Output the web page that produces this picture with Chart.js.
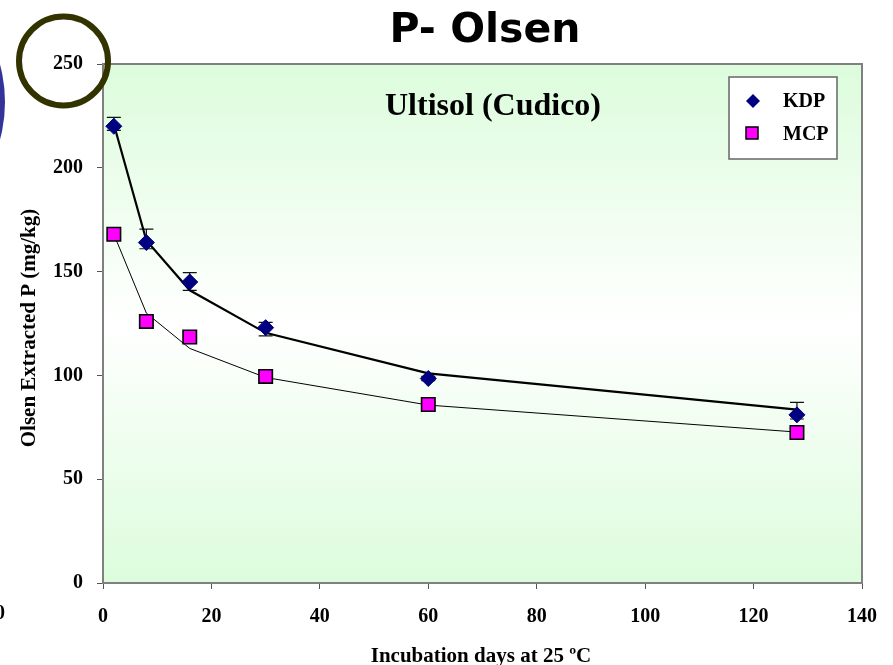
<!DOCTYPE html>
<html>
<head>
<meta charset="utf-8">
<script src="https://cdn.jsdelivr.net/npm/chart.js@4"></script>
<style>
html,body{margin:0;padding:0;background:#fff;}
#wrap{width:893px;height:665px;}
</style>
</head>
<body>
<div id="wrap"><canvas id="c" width="893" height="665"></canvas></div>
<script>
// ---- data ----
const days = [2, 8, 16, 30, 60, 128];
const kdp = [220, 164, 145, 123, 98.5, 81];
const mcp = [168, 126, 118.5, 99.5, 86, 72.5];
const kdpFit = [221, 165, 141, 120.5, 101, 83.5];
const mcpFit = [168, 130, 113, 99, 85.7, 72.7];
const kdpErrUp = [4.3, 6.5, 4.5, 2.5, 1, 6];
const kdpErrDown = [2, 3, 4, 4, 1, 2];
const xTicks = [0, 20, 40, 60, 80, 100, 120, 140];
const yTicks = [0, 50, 100, 150, 200, 250];
const seriesNames = ['KDP', 'MCP'];
const chartTitle = 'P- Olsen';
const innerTitle = 'Ultisol (Cudico)';
const xTitle = 'Incubation days at 25 ºC';
const yTitle = 'Olsen Extracted P (mg/kg)';

const pts = (xs, ys) => xs.map((x, i) => ({x: x, y: ys[i]}));
const SERIF = 'Liberation Serif, Times New Roman, serif';

const bgPlugin = {
  id: 'bg',
  beforeDraw(chart) {
    const {ctx, chartArea: a} = chart;
    ctx.save();
    ctx.fillStyle = '#ffffff';
    ctx.fillRect(0, 0, chart.width, chart.height);
    const g = ctx.createLinearGradient(0, a.top, 0, a.bottom);
    g.addColorStop(0, '#dcfcdc');
    g.addColorStop(0.5, '#ffffff');
    g.addColorStop(1, '#dcfcdc');
    ctx.fillStyle = g;
    ctx.fillRect(a.left, a.top, a.right - a.left, a.bottom - a.top);
    ctx.restore();
  },
  beforeDatasetsDraw(chart) {
    const {ctx} = chart;
    const xs = chart.scales.x, ys = chart.scales.y;
    ctx.save();
    ctx.strokeStyle = '#111111';
    ctx.lineWidth = 1.2;
    days.forEach((d, i) => {
      const px = xs.getPixelForValue(d);
      const top = ys.getPixelForValue(kdp[i] + kdpErrUp[i]);
      const bot = ys.getPixelForValue(kdp[i] - kdpErrDown[i]);
      ctx.beginPath();
      ctx.moveTo(px, top); ctx.lineTo(px, bot);
      ctx.moveTo(px - 7, top); ctx.lineTo(px + 7, top);
      ctx.moveTo(px - 7, bot); ctx.lineTo(px + 7, bot);
      ctx.stroke();
    });
    ctx.restore();
  },
  afterDraw(chart) {
    const {ctx, chartArea: a} = chart;
    ctx.save();
    // frame
    ctx.strokeStyle = '#808080';
    ctx.lineWidth = 2;
    ctx.strokeRect(a.left, a.top, a.right - a.left, a.bottom - a.top);
    // main title
    ctx.fillStyle = '#000';
    ctx.textAlign = 'center';
    ctx.textBaseline = 'alphabetic';
    ctx.font = 'bold 41px "DejaVu Sans", Verdana, sans-serif';
    ctx.fillText(chartTitle, 485, 42);
    // inner title
    ctx.font = 'bold 32px ' + SERIF;
    ctx.fillText(innerTitle, 493, 115);
    // axis titles
    ctx.font = 'bold 21px ' + SERIF;
    ctx.fillText(xTitle, 481, 662);
    ctx.save();
    ctx.translate(35, 328);
    ctx.rotate(-Math.PI / 2);
    ctx.fillText(yTitle, 0, 0);
    ctx.restore();
    // legend
    ctx.fillStyle = '#ffffff';
    ctx.fillRect(729, 77, 108, 82);
    ctx.strokeStyle = '#666666';
    ctx.lineWidth = 1.5;
    ctx.strokeRect(729, 77, 108, 82);
    ctx.fillStyle = '#000080';
    ctx.beginPath();
    ctx.moveTo(753, 94); ctx.lineTo(760, 101); ctx.lineTo(753, 108); ctx.lineTo(746, 101);
    ctx.closePath(); ctx.fill();
    ctx.fillStyle = '#ff00ff';
    ctx.fillRect(746, 127, 12, 12);
    ctx.strokeStyle = '#000';
    ctx.lineWidth = 1.5;
    ctx.strokeRect(746, 127, 12, 12);
    ctx.fillStyle = '#000';
    ctx.textAlign = 'left';
    ctx.font = 'bold 20px ' + SERIF;
    ctx.fillText(seriesNames[0], 783, 107);
    ctx.fillText(seriesNames[1], 783, 140);
    // decorations
    ctx.strokeStyle = '#333300';
    ctx.lineWidth = 6;
    ctx.beginPath();
    ctx.arc(63.5, 61, 44.5, 0, Math.PI * 2);
    ctx.stroke();
    ctx.fillStyle = '#333399';
    ctx.beginPath();
    ctx.arc(-138, 102, 143, 0, Math.PI * 2);
    ctx.fill();
    ctx.fillStyle = '#000';
    ctx.textAlign = 'center';
    ctx.font = 'bold 20px ' + SERIF;
    ctx.fillText('0', 0, 619);
    ctx.restore();
  }
};

new Chart(document.getElementById('c'), {
  type: 'scatter',
  data: {
    datasets: [
      {label: seriesNames[0], data: pts(days, kdp), pointStyle: 'rectRot', pointRadius: 8, pointHoverRadius: 8,
       backgroundColor: '#000080', borderColor: '#000080', borderWidth: 1, showLine: false, order: 0},
      {label: seriesNames[1], data: pts(days, mcp), pointStyle: 'rect', pointRadius: 9.5, pointHoverRadius: 9.5,
       backgroundColor: '#ff00ff', borderColor: '#000000', borderWidth: 1.6, showLine: false, order: 0},
      {label: 'KDP fit', data: pts(days, kdpFit), showLine: true, pointRadius: 0, borderColor: '#000000',
       borderWidth: 2.2, fill: false, tension: 0, order: 2},
      {label: 'MCP fit', data: pts(days, mcpFit), showLine: true, pointRadius: 0, borderColor: '#000000',
       borderWidth: 1, fill: false, tension: 0, order: 2}
    ]
  },
  options: {
    responsive: false,
    animation: false,
    devicePixelRatio: 1,
    layout: {padding: {top: 64, right: 31, left: 0, bottom: 0}},
    plugins: {legend: {display: false}, title: {display: false}, tooltip: {enabled: false}},
    scales: {
      x: {
        type: 'linear', min: 0, max: 140,
        afterBuildTicks: s => { s.ticks = xTicks.map(v => ({value: v})); },
        afterFit: s => { s.height = 82; },
        grid: {drawOnChartArea: false, drawTicks: true, tickLength: 6, color: '#555555', lineWidth: 1},
        border: {display: true, color: '#808080', width: 2},
        ticks: {padding: 16, color: '#000', maxRotation: 0, font: {family: SERIF, weight: 'bold', size: 20}}
      },
      y: {
        type: 'linear', min: 0, max: 250,
        afterBuildTicks: s => { s.ticks = yTicks.map(v => ({value: v})); },
        afterFit: s => { s.width = 103; },
        grid: {drawOnChartArea: false, drawTicks: true, tickLength: 6, color: '#555555', lineWidth: 1},
        border: {display: true, color: '#808080', width: 2},
        ticks: {padding: 14, color: '#000', font: {family: SERIF, weight: 'bold', size: 20}}
      }
    }
  },
  plugins: [bgPlugin]
});
</script>
</body>
</html>
